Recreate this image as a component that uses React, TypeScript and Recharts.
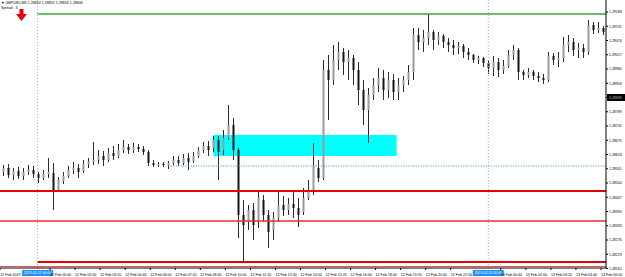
import { ComposedChart, Bar, XAxis, YAxis, ReferenceLine, ReferenceArea } from "recharts";

// GBPUSD M5 (compressed to ~16 min per candle), 11 Feb 22:08 .. 13 Feb 06:08
const OPEN = [
  1.28548, 1.28564, 1.28536, 1.28552, 1.28532, 1.28548, 1.28556, 1.2854, 1.28524, 1.2854,
  1.28544, 1.28476, 1.28512, 1.28532, 1.28556, 1.28564, 1.28552, 1.2858, 1.28588, 1.28596,
  1.28612, 1.28596, 1.28624, 1.28612, 1.28636, 1.28648, 1.28636, 1.28648, 1.2864, 1.28628,
  1.28584, 1.28576, 1.2858, 1.28576, 1.28584, 1.28596, 1.28584, 1.28604, 1.28592, 1.28612,
  1.28636, 1.28652, 1.28644, 1.28676, 1.28636, 1.28684, 1.28736, 1.28636, 1.28376, 1.28348,
  1.28396, 1.28348, 1.28436, 1.28376, 1.28316, 1.28364, 1.28416, 1.28396, 1.2842, 1.28404,
  1.28388, 1.28444, 1.28476, 1.28564, 1.28524, 1.28956, 1.28916, 1.28996, 1.29028, 1.28988,
  1.29004, 1.28956, 1.28876, 1.28796, 1.28856, 1.28896, 1.28924, 1.28876, 1.28916, 1.28868,
  1.28896, 1.28916, 1.28948, 1.29096, 1.29068, 1.29084, 1.29108, 1.29076, 1.29092, 1.29068,
  1.29056, 1.29044, 1.29052, 1.29028, 1.29016, 1.28996, 1.29004, 1.28984, 1.28964, 1.28988,
  1.28956, 1.28972, 1.29016, 1.29036, 1.28948, 1.28936, 1.28948, 1.28932, 1.28924, 1.28916,
  1.29012, 1.28996, 1.29004, 1.29056, 1.29068, 1.29036, 1.29044, 1.29028, 1.29136, 1.29116,
  1.29124,
];
const HIGH = [
  1.28576, 1.2858, 1.28564, 1.28568, 1.28564, 1.28576, 1.28572, 1.28548, 1.28556, 1.28604,
  1.28584, 1.28528, 1.28548, 1.28572, 1.28588, 1.2858, 1.28596, 1.28604, 1.28668, 1.28636,
  1.28632, 1.28644, 1.28652, 1.2866, 1.28676, 1.2866, 1.28664, 1.2866, 1.28652, 1.28636,
  1.28596, 1.28588, 1.28588, 1.28592, 1.28612, 1.28612, 1.2862, 1.28624, 1.28628, 1.28648,
  1.28668, 1.28672, 1.28692, 1.28692, 1.28716, 1.28816, 1.28764, 1.28644, 1.28436, 1.28416,
  1.28424, 1.28468, 1.28456, 1.28396, 1.28388, 1.28468, 1.28452, 1.28444, 1.28468, 1.28444,
  1.28484, 1.28516, 1.28664, 1.28596, 1.28996, 1.29016, 1.29056, 1.29068, 1.29044, 1.29036,
  1.29016, 1.28988, 1.28916, 1.28884, 1.28924, 1.28964, 1.28956, 1.28948, 1.2894, 1.28924,
  1.28932, 1.28976, 1.29124, 1.29124, 1.29116, 1.2918, 1.29116, 1.29108, 1.291, 1.29084,
  1.29076, 1.29068, 1.2906, 1.29044, 1.2902, 1.29012, 1.29008, 1.28996, 1.29012, 1.29004,
  1.28996, 1.29036, 1.29056, 1.29044, 1.28956, 1.28964, 1.28956, 1.28948, 1.2894, 1.29028,
  1.29024, 1.29028, 1.29088, 1.29096, 1.29084, 1.29064, 1.2906, 1.29156, 1.29148, 1.29148,
  1.29132,
];
const LOW = [
  1.28532, 1.28524, 1.28516, 1.2852, 1.28516, 1.28536, 1.28524, 1.28504, 1.28516, 1.28524,
  1.28396, 1.28468, 1.285, 1.28524, 1.2854, 1.28524, 1.28544, 1.28564, 1.28576, 1.2858,
  1.28572, 1.28588, 1.28596, 1.28604, 1.28624, 1.2862, 1.28624, 1.28628, 1.28616, 1.28572,
  1.28568, 1.28568, 1.28568, 1.2856, 1.28576, 1.28572, 1.28576, 1.28556, 1.28584, 1.28604,
  1.28624, 1.28612, 1.28628, 1.28516, 1.28616, 1.28676, 1.28596, 1.28284, 1.28188, 1.28316,
  1.28276, 1.28324, 1.28348, 1.28244, 1.28276, 1.28348, 1.28372, 1.28376, 1.28364, 1.28328,
  1.28376, 1.28436, 1.28456, 1.28508, 1.28516, 1.28756, 1.28896, 1.28956, 1.28936, 1.28916,
  1.28896, 1.28816, 1.28736, 1.28664, 1.28836, 1.28868, 1.28836, 1.28844, 1.28836, 1.28836,
  1.28868, 1.28896, 1.28916, 1.29036, 1.29028, 1.29056, 1.29036, 1.29056, 1.29044, 1.29028,
  1.29016, 1.2902, 1.29004, 1.28996, 1.28984, 1.2898, 1.28968, 1.2894, 1.28932, 1.28928,
  1.2894, 1.28964, 1.28996, 1.28916, 1.28916, 1.28924, 1.28916, 1.28908, 1.289, 1.28908,
  1.28976, 1.28968, 1.28988, 1.29028, 1.29012, 1.29004, 1.29004, 1.29016, 1.291, 1.29104,
  1.29096,
];
const CLOSE = [
  1.28564, 1.28536, 1.28552, 1.28532, 1.28548, 1.28556, 1.2854, 1.28524, 1.2854, 1.28548,
  1.28476, 1.28516, 1.28532, 1.28556, 1.28564, 1.28548, 1.2858, 1.28588, 1.28596, 1.28612,
  1.28596, 1.28624, 1.28612, 1.28636, 1.28648, 1.28636, 1.28648, 1.2864, 1.28628, 1.28584,
  1.28576, 1.2858, 1.28576, 1.28584, 1.28596, 1.28584, 1.28604, 1.28588, 1.28612, 1.28636,
  1.28652, 1.28636, 1.28676, 1.28628, 1.28684, 1.28736, 1.28636, 1.28376, 1.28336, 1.28396,
  1.28336, 1.28444, 1.28376, 1.28308, 1.28364, 1.28416, 1.28396, 1.2842, 1.28404, 1.28376,
  1.28444, 1.28476, 1.28576, 1.28524, 1.28956, 1.28916, 1.28996, 1.29028, 1.28988, 1.29004,
  1.28956, 1.28876, 1.28796, 1.28856, 1.28896, 1.28924, 1.28876, 1.28916, 1.28868, 1.28896,
  1.28916, 1.28948, 1.29096, 1.29068, 1.29084, 1.29108, 1.29076, 1.29092, 1.29068, 1.29056,
  1.29044, 1.29052, 1.29028, 1.29016, 1.28996, 1.29004, 1.28984, 1.28964, 1.28988, 1.28956,
  1.28972, 1.29016, 1.29036, 1.28948, 1.28936, 1.28948, 1.28932, 1.28924, 1.28916, 1.29012,
  1.28996, 1.29004, 1.29056, 1.29068, 1.29036, 1.29044, 1.29028, 1.29136, 1.29116, 1.29124,
  1.29108,
];

const PRICE_TICKS = [
  1.29188, 1.29131, 1.29074, 1.29017, 1.2896, 1.28903, 1.28846, 1.28789, 1.28732, 1.28675,
  1.28618, 1.28561, 1.28504, 1.28447, 1.2839, 1.28333, 1.28276, 1.28219, 1.28162,
];
const TIME_TICKS = [
  -0.5, 9.5, 14.5, 19.5, 24.5, 29.5, 34.5, 39.5, 44.5, 49.5, 54.5, 59.5, 64.5, 69.5, 74.5,
  79.5, 84.5, 89.5, 99.5, 104.5, 109.5, 114.5, 119.5,
];
const TIME_LABELS = [
  "11 Feb 2019", "12 Feb 00:40", "12 Feb 02:00", "12 Feb 03:20", "12 Feb 04:40",
  "12 Feb 06:00", "12 Feb 07:20", "12 Feb 08:40", "12 Feb 10:00", "12 Feb 11:20",
  "12 Feb 12:40", "12 Feb 14:00", "12 Feb 15:20", "12 Feb 16:40", "12 Feb 18:00",
  "12 Feb 19:20", "12 Feb 20:40", "12 Feb 22:00", "13 Feb 00:40", "13 Feb 02:00",
  "13 Feb 03:20", "13 Feb 04:40", "13 Feb 06:00",
];

const CURRENT = 1.28846;
const RESISTANCE = 1.2918;
const SUPPORTS = [1.28472, 1.28352];
const LOWER_SUPPORTS = [1.28188, 1.2817];
const TREND_LEVEL = 1.28572;
const DAY_STARTS = [7, 97];
const DAY_LABELS = ["2019.02.12 00:00", "2019.02.13 00:00"];
const ZONE = { x1: 42.1, x2: 78.7, y1: 1.28612, y2: 1.28696 };

const candles = OPEN.map((o, i) => ({ i, open: o, high: HIGH[i], low: LOW[i], close: CLOSE[i] }));

const FONT = "'Liberation Sans', Arial, sans-serif";

function Candle(props: any) {
  const { x, y, width, height, payload } = props;
  if (!payload) return null;
  const { open, close, high, low } = payload;
  const top = Math.min(y, y + height);
  const h = Math.abs(height);
  const span = high - low || 1e-9;
  const yOf = (p: number) => top + ((high - p) / span) * h;
  const cx = Math.round(x + width / 2) + 0.5;
  const b1 = Math.min(yOf(open), yOf(close));
  const b2 = Math.max(yOf(open), yOf(close));
  const bull = close >= open;
  return (
    <g>
      <line x1={cx} x2={cx} y1={top} y2={top + h} stroke="#2a2a2a" strokeWidth={1} />
      <rect
        x={cx - 1}
        y={b1}
        width={2}
        height={Math.max(b2 - b1, 0.8)}
        fill={bull ? "#9a9a9a" : "#151515"}
      />
    </g>
  );
}

function TimeTick(props: any) {
  const { x, y, payload } = props;
  const idx = TIME_TICKS.indexOf(payload.value);
  const label = TIME_LABELS[idx] ?? "";
  return (
    <text x={idx === 0 ? 0.5 : x} y={y + 3.6} fontSize={3.6} fontFamily={FONT} fill="#000" textAnchor="start">
      {label}
    </text>
  );
}

function PriceTick(props: any) {
  const { x, y, payload } = props;
  return (
    <text x={x} y={y + 1.3} fontSize={3.5} fontFamily={FONT} fill="#000" textAnchor="start">
      {payload.value.toFixed(5)}
    </text>
  );
}

function PriceTag(props: any) {
  const { viewBox, text } = props;
  if (!viewBox) return null;
  const x = viewBox.x + viewBox.width;
  const y = viewBox.y;
  return (
    <g>
      <rect x={x + 1} y={y - 3.5} width={18} height={7} fill="#000" />
      <text x={x + 3} y={y + 1.3} fontSize={3.5} fontFamily={FONT} fill="#fff">
        {text}
      </text>
    </g>
  );
}

function DayTag(props: any) {
  const { viewBox, text } = props;
  if (!viewBox) return null;
  const x = viewBox.x;
  const bottom = viewBox.y + viewBox.height;
  return (
    <g>
      <rect x={x - 15.5} y={bottom + 2} width={31} height={6} fill="#1e90ff" />
      <text x={x} y={bottom + 6.3} fontSize={3.5} fontFamily={FONT} fill="#fff" textAnchor="middle">
        {text}
      </text>
    </g>
  );
}

export default function App() {
  return (
    <div style={{ position: "fixed", left: 0, top: 0, width: 625, height: 277, background: "#fff" }}>
      <ComposedChart
        width={625}
        height={277}
        data={candles}
        margin={{ top: 0, right: 0, bottom: 0, left: 0 }}
      >
        <XAxis
          dataKey="i"
          type="number"
          domain={[-0.5, 120.5]}
          allowDataOverflow
          ticks={TIME_TICKS}
          interval={0}
          height={9}
          tickSize={2}
          tickLine={{ stroke: "#000" }}
          axisLine={{ stroke: "#000" }}
          tick={<TimeTick />}
        />
        <YAxis
          orientation="right"
          type="number"
          domain={[1.28164, 1.29236]}
          allowDataOverflow
          ticks={PRICE_TICKS}
          interval={0}
          width={19}
          tickSize={2}
          tickMargin={1}
          tickLine={{ stroke: "#000" }}
          axisLine={{ stroke: "#000" }}
          tick={<PriceTick />}
        />
        <ReferenceArea
          x1={ZONE.x1}
          x2={ZONE.x2}
          y1={ZONE.y1}
          y2={ZONE.y2}
          fill="#00ffff"
          fillOpacity={1}
          stroke="none"
        />
        {DAY_STARTS.map((d, k) => (
          <ReferenceLine
            key={d}
            x={d}
            stroke="#7fb8ee"
            strokeDasharray="1 2"
            label={<DayTag text={DAY_LABELS[k]} />}
          />
        ))}
        <Bar
          dataKey={(d: any) => [d.low, d.high]}
          barSize={5}
          shape={<Candle />}
          isAnimationActive={false}
        />
        <ReferenceLine
          segment={[{ x: 33.1, y: TREND_LEVEL }, { x: 120.5, y: TREND_LEVEL }]}
          stroke="#2f8ae8"
          strokeDasharray="1 1.5"
        />
        <ReferenceLine
          segment={[{ x: 7, y: RESISTANCE }, { x: 120.5, y: RESISTANCE }]}
          stroke="#3aa63a"
          strokeWidth={1.5}
        />
        {SUPPORTS.map((p, k) => (
          <ReferenceLine key={p} y={p} stroke={k === 0 ? "#e60000" : "#ee2b2b"} strokeWidth={k === 0 ? 2 : 1.6} />
        ))}
        <ReferenceLine
          segment={[{ x: 7, y: LOWER_SUPPORTS[0] }, { x: 120.5, y: LOWER_SUPPORTS[0] }]}
          stroke="#e60000"
          strokeWidth={1.8}
        />
        <ReferenceLine y={LOWER_SUPPORTS[1]} stroke="#f05050" strokeWidth={1.2} />
        <ReferenceLine y={CURRENT} stroke="none" label={<PriceTag text={CURRENT.toFixed(5)} />} />
      </ComposedChart>
      <svg
        width={625}
        height={277}
        style={{ position: "absolute", left: 0, top: 0, pointerEvents: "none" }}
      >
        <text x={1} y={4} fontSize={3.6} fontFamily={FONT} fill="#000">
          ▼ GBPUSD,M5  1.28824 1.28852 1.28816 1.28846
        </text>
        <text x={1} y={9} fontSize={3.6} fontFamily={FONT} fill="#000">
          Spread : 3
        </text>
        <path d="M19.5 9 H23.5 V14 H27 L21.5 21 L16 14 H19.5 Z" fill="#e8000b" />
      </svg>
    </div>
  );
}
